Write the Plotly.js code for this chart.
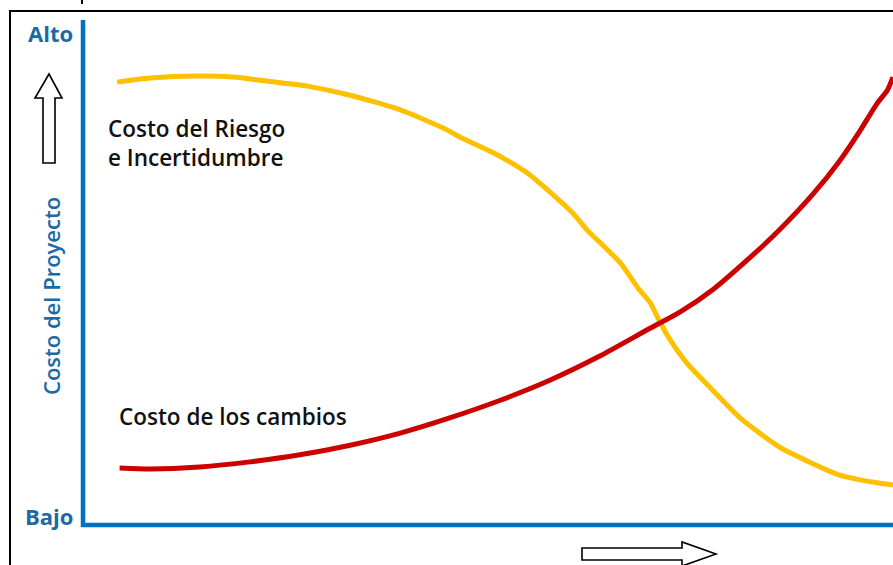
<!DOCTYPE html>
<html>
<head>
<meta charset="utf-8">
<script src="https://cdn.plot.ly/plotly-3.0.1.min.js"></script>
<style>
  html, body { margin: 0; padding: 0; background: #ffffff; }
  #chart { width: 893px; height: 565px; }
</style>
</head>
<body>
<div id="chart"></div>
<script>
// Avance del proyecto (0 = inicio, 100 = fin) y nivel de costo (0 = Bajo, 100 = Alto)
const riesgoAvance = [4.1, 8.2, 14.0, 18.4, 22.6, 27.6, 32.9, 39.1, 44.4, 46.5, 50.6, 54.8, 60.4, 62.2, 66.3, 68.4, 70.0, 71.0, 72.4, 74.5, 77.7, 81.1, 86.0, 93.4, 97.5, 100];
const riesgoCosto  = [87.7, 88.5, 88.9, 88.7, 87.9, 86.9, 85.1, 82.2, 78.6, 76.8, 73.7, 69.7, 61.8, 58.4, 51.9, 47.1, 44.0, 40.8, 36.8, 32.1, 26.7, 21.2, 15.4, 9.9, 8.5, 7.9];

const cambiosAvance = [4.4, 8.2, 14.3, 20.5, 26.7, 32.9, 39.1, 45.2, 51.3, 57.5, 63.7, 69.8, 73.7, 77.8, 82.0, 85.7, 90.1, 93.4, 95.9, 98.0, 99.3, 100];
const cambiosCosto  = [11.3, 11.1, 11.5, 12.5, 13.9, 15.8, 18.2, 21.2, 24.6, 28.6, 33.4, 38.8, 42.2, 46.7, 52.5, 58.0, 65.5, 72.1, 78.0, 83.4, 86.1, 88.7];

const nivelTexto = ['Bajo', 'Alto'];
const ejeTitulo = 'Costo del Proyecto';
const serieRiesgo = 'Costo del Riesgo<br>e Incertidumbre';
const serieCambios = 'Costo de los cambios';

const W = 893, H = 565;
const px = v => v / W;          // pixel -> paper x
const py = v => 1 - v / H;      // pixel -> paper y
const path = pts => pts.map((p, i) => (i ? 'L' : 'M') + px(p[0]).toFixed(5) + ',' + py(p[1]).toFixed(5)).join(' ');

const azul = '#0070c0';
const azulTexto = '#1b6aa5';
const fuente = '"Open Sans", "Noto Sans", sans-serif';

const traces = [
  {
    x: riesgoAvance, y: riesgoCosto, mode: 'lines', name: 'Costo del Riesgo e Incertidumbre',
    line: { color: '#ffc000', width: 5, shape: 'spline', smoothing: 0.6 }, hoverinfo: 'skip'
  },
  {
    x: cambiosAvance, y: cambiosCosto, mode: 'lines', name: serieCambios,
    line: { color: '#cc0000', width: 5, shape: 'spline', smoothing: 0.6 }, hoverinfo: 'skip'
  }
];

const shapes = [
  // marco exterior
  { type: 'path', xref: 'paper', yref: 'paper', path: path([[10, H + 5], [10, 11], [W + 5, 11]]),
    line: { color: '#000', width: 2 } },
  { type: 'line', xref: 'paper', yref: 'paper', x0: px(82), x1: px(82), y0: py(0), y1: py(4),
    line: { color: '#000', width: 2 } },
  // ejes azules
  { type: 'path', xref: 'paper', yref: 'paper', path: path([[83, 20], [83, 525], [W + 5, 525]]),
    line: { color: azul, width: 4.5 } },
  // flecha hacia arriba
  { type: 'path', xref: 'paper', yref: 'paper',
    path: path([[49, 74], [62, 98], [55, 98], [55, 163], [43, 163], [43, 98], [35, 98]]) + ' Z',
    fillcolor: '#fff', line: { color: '#000', width: 1.6 } },
  // flecha hacia la derecha
  { type: 'path', xref: 'paper', yref: 'paper',
    path: path([[582, 548], [682, 548], [682, 542], [716, 554], [682, 566], [682, 560], [582, 560]]) + ' Z',
    fillcolor: '#fff', line: { color: '#000', width: 1.6 } }
];

const annotations = [
  { text: nivelTexto[1], x: px(50), y: py(33), xref: 'paper', yref: 'paper', showarrow: false,
    xanchor: 'center', yanchor: 'middle', font: { family: fuente, size: 22, color: azulTexto, weight: 700 } },
  { text: nivelTexto[0], x: px(48.5), y: py(516), xref: 'paper', yref: 'paper', showarrow: false,
    xanchor: 'center', yanchor: 'middle', font: { family: fuente, size: 22, color: azulTexto, weight: 700 } },
  { text: ejeTitulo, x: px(51), y: py(296), xref: 'paper', yref: 'paper', showarrow: false, textangle: -90,
    xanchor: 'center', yanchor: 'middle', font: { family: fuente, size: 22, color: azulTexto, weight: 600 } },
  { text: serieRiesgo, x: px(106), y: py(143), xref: 'paper', yref: 'paper', showarrow: false, align: 'left',
    xanchor: 'left', yanchor: 'middle', font: { family: fuente, size: 22.5, color: '#111', weight: 600 } },
  { text: serieCambios, x: px(117), y: py(416), xref: 'paper', yref: 'paper', showarrow: false, align: 'left',
    xanchor: 'left', yanchor: 'middle', font: { family: fuente, size: 22.5, color: '#111', weight: 600 } }
];

const layout = {
  width: W, height: H,
  margin: { l: 0, r: 0, t: 0, b: 0, pad: 0 },
  paper_bgcolor: '#fff', plot_bgcolor: 'rgba(0,0,0,0)',
  showlegend: false,
  xaxis: { domain: [84 / W, 1], range: [0, 100], visible: false, fixedrange: true },
  yaxis: { domain: [(H - 525) / H, (H - 20) / H], range: [0, 100], visible: false, fixedrange: true },
  shapes: shapes,
  annotations: annotations
};

Plotly.newPlot('chart', traces, layout, { staticPlot: true, displayModeBar: false });
</script>
</body>
</html>
